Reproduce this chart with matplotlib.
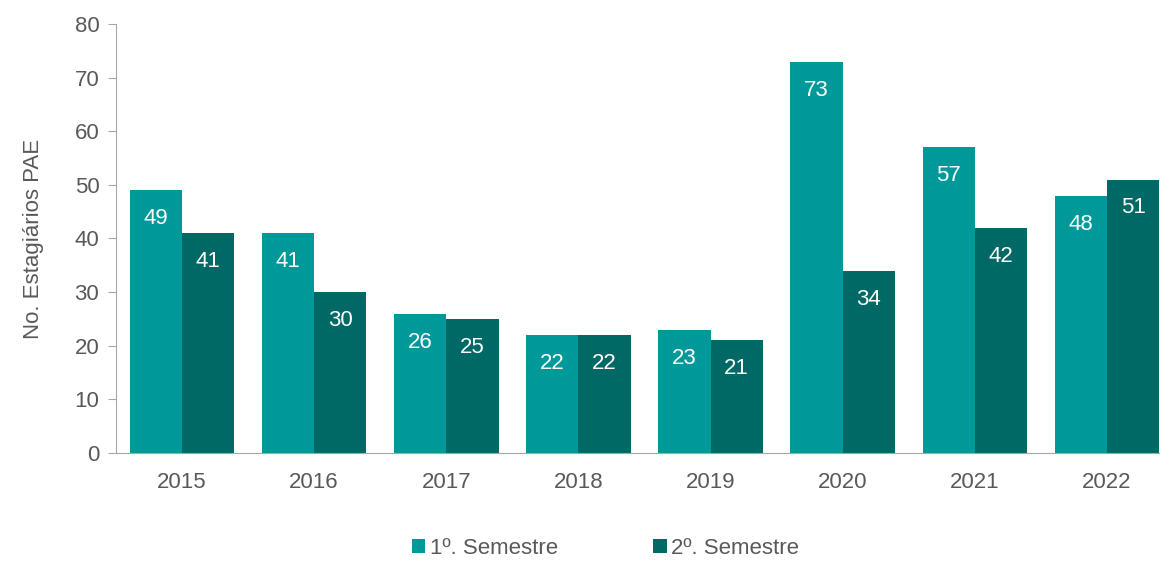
import numpy as np
import matplotlib.pyplot as plt

plt.rcParams['font.family'] = ['Liberation Sans', 'DejaVu Sans']

anos = ['2015', '2016', '2017', '2018', '2019', '2020', '2021', '2022']
sem1 = [49, 41, 26, 22, 23, 73, 57, 48]
sem2 = [41, 30, 25, 22, 21, 34, 42, 51]

cor1 = '#009999'
cor2 = '#006966'
cinza = '#595959'

fig = plt.figure(figsize=(11.6, 5.61), dpi=100)
ax = fig.add_axes([116/1160, 108/561, (1173-116)/1160, 429/561])

x = np.arange(len(anos))
w = 0.395
b1 = ax.bar(x - w/2, sem1, w, color=cor1, label='1º. Semestre')
b2 = ax.bar(x + w/2, sem2, w, color=cor2, label='2º. Semestre')

for bars, vals in [(b1, sem1), (b2, sem2)]:
    for r, v in zip(bars, vals):
        ax.annotate(str(v), (r.get_x() + r.get_width()/2, v),
                    xytext=(0, -20.5), textcoords='offset points',
                    ha='center', va='center', color='white', fontsize=16)

ax.set_xlim(-0.5, 7.5)
ax.set_ylim(0, 80)
ax.set_yticks(range(0, 81, 10))
ax.set_xticks(x)
ax.set_xticklabels(anos)
ax.tick_params(axis='x', length=0, pad=14, labelsize=16, labelcolor=cinza)
ax.tick_params(axis='y', length=6, color='#a6a6a6', pad=6, labelsize=16, labelcolor=cinza)
ax.set_ylabel('No. Estagiários PAE', fontsize=16, color=cinza, labelpad=22)

for s in ['top', 'right']:
    ax.spines[s].set_visible(False)
for s in ['left', 'bottom']:
    ax.spines[s].set_color('#a6a6a6')

leg = fig.legend(handles=[b1, b2], loc='center', bbox_to_anchor=(0.522, 0.023),
                 ncol=2, frameon=False, fontsize=16, handlelength=0.6,
                 handleheight=0.6, handletextpad=0.2, columnspacing=4.3)
for t in leg.get_texts():
    t.set_color(cinza)

fig.savefig('out.png', dpi=100)
